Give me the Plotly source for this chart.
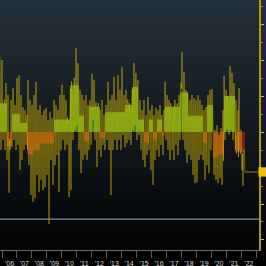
import numpy as np
import pandas as pd
import plotly.graph_objects as go

# ---------------- data ----------------
series_start = "2005-11-13"
series_end = "2022-03-30"

# spike extremes (one per ~3.5 weeks)
spike_values = [
    2.08, -0.50, 2.00, -0.22, 0.89, -0.50, 1.36, -0.78, 1.03, -1.69,
    -0.50, 0.89, -0.42, 1.22, -0.22, 0.75, -0.50, 1.50, -0.36, 1.58,
    -1.06, 1.03, -0.78, 0.69, -0.50, 0.61, -0.36, 0.47, 1.44, -0.92,
    0.89, -1.75, 0.75, -1.94, 1.03, -1.83, 1.39, -1.19, 0.61, -1.67,
    0.75, -1.33, 0.47, -1.61, 0.61, -1.53, 0.67, -1.19, 0.33, -2.56,
    0.56, -0.78, 0.39, -1.47, 0.89, -0.92, 0.75, -0.64, 0.61, -1.67,
    1.03, -0.50, 1.31, -0.22, 1.03, -0.50, 0.89, -0.36, 0.25, -1.81,
    0.47, -1.61, 1.17, -0.22, 1.50, 0.06, 2.33, 0.19, 1.92, -0.50,
    1.17, -1.14, 1.03, -0.78, 0.89, -0.64, 1.03, -0.78, 0.75, -0.50,
    0.89, -0.36, 1.61, 0.33, 1.44, -0.22, 0.83, -0.97, 0.75, -0.50,
    0.61, -0.69, 0.89, -0.36, 0.47, -0.50, 0.75, -0.22, 1.39, -0.50,
    0.89, -1.75, 1.03, -0.50, 1.53, -0.22, 0.89, -0.50, 1.58, -0.22,
    1.17, -0.50, 1.81, -0.08, 1.03, -0.42, 1.17, -0.31, 0.89, -0.22,
    0.69, -0.36, 1.17, 0.06, 1.92, 0.19, 1.64, -0.22, 1.44, -0.08,
    0.89, -0.50, 0.61, -0.78, 0.89, -0.97, 0.47, -0.64, 0.97, -0.50,
    0.61, -1.06, 0.75, -1.47, 0.47, -0.78, 0.67, -0.50, 0.61, -0.69,
    0.75, -0.36, 0.47, -0.64, 0.61, 1.39, -0.22, 1.03, -0.50, 0.89,
    -0.78, 0.75, -0.50, 0.61, -0.78, 0.89, -0.36, 0.75, -0.64, 1.03,
    -0.22, 1.36, 2.22, -0.22, 1.67, -0.50, 1.17, -0.86, 1.03, -0.64,
    0.89, -0.78, 1.03, -1.19, 0.94, -1.42, 0.89, -1.39, 1.03, -0.78,
    0.89, -0.64, 0.75, -0.78, 0.61, -1.33, 0.69, -0.92, 1.03, -1.14,
    1.17, -0.50, 1.19, -0.30, -1.19, 0.06, -1.33, 0.19, -1.42, -0.08,
    -1.28, 0.11, -1.47, 0.61, 1.56, -0.22, 1.17, 0.06, 0.89, -0.08,
    1.83, 0.06, 1.64, -0.22, 1.36, -0.08, 0.89, -0.50, 0.61, 1.22,
    -0.50, 0.06, -1.06, -1.50, -0.50, -1.11,
]
# calmer readings between the spikes
between_values = [
    0.9, 0.7, 0.8, 0.6, 0.9, 0.7, 0.6, -0.3, -0.5, -0.2,
    -0.4, -0.3, 0.5, 0.6, 0.4, 0.5, 0.7, 0.4, 0.5, 0.6,
    0.2, 0.3, 0.1, 0.3, 0.2, 0.4, 0.2, -0.5, -0.7, -0.6,
    -0.5, -0.8, -0.6, -0.7, -0.5, -0.6, -0.4, -0.5, -0.6, -0.4,
    -0.3, -0.4, -0.2, -0.3, -0.4, -0.3, -0.2, -0.4, -0.3, -0.4,
    -0.2, -0.3, -0.4, -0.3, 0.3, 0.4, 0.2, 0.4, 0.3, 0.5,
    0.3, 0.4, 0.5, 0.3, 0.2, 0.4, 0.3, 0.4, 0.3, 0.2,
    1.2, 1.4, 1.1, 1.3, 1.5, 1.2, 1.4, 1.3, 1.2, 0.5,
    0.4, 0.5, 0.3, 0.4, -0.2, -0.3, -0.1, -0.3, -0.2, 0.7,
    0.6, 0.8, 0.7, 0.6, 0.8, 0.7, 0.6, 0.7, 0.8, 0.6,
    -0.1, -0.2, -0.1, -0.2, -0.1, 0.5, 0.6, 0.4, 0.6, 0.5,
    0.6, 0.5, 0.4, 0.6, 0.7, 0.5, 0.6, 0.4, 0.5, 0.6,
    0.5, 0.6, 0.7, 0.5, 0.6, 0.8, 0.7, 0.9, 0.7, 0.8,
    0.6, 0.7, 1.2, 1.3, 1.1, 1.4, 1.2, 1.3, 0.4, 0.3,
    0.4, 0.3, 0.4, 0.2, -0.3, -0.2, -0.4, -0.3, -0.2, 0.3,
    0.4, 0.3, 0.4, -0.2, -0.1, -0.3, -0.2, 0.3, 0.4, 0.3,
    0.4, 0.3, -0.1, -0.2, 0.0, 0.7, 0.6, 0.8, 0.7, 0.6,
    0.8, 0.7, 0.6, 0.7, 0.8, 0.6, 0.7, 0.8, 0.7, 0.6,
    1.0, 1.2, 1.1, 1.0, 1.2, 1.1, 1.0, 1.1, 0.4, 0.5,
    0.4, 0.5, 0.3, 0.5, 0.4, 0.6, 0.4, 0.5, 0.3, 0.5,
    0.4, 0.5, 0.4, -0.3, -0.2, -0.4, -0.3, 0.7, 0.8, 0.6,
    0.8, 0.7, 0.8, -0.6, -0.8, -0.7, -0.6, -0.8, -0.7, -0.6,
    -0.8, -0.7, -0.6, -0.8, 1.0, 0.9, 1.1, 1.0, 0.9, 1.1,
    1.0, 0.9, 1.1, 1.0, 0.9, -0.5, -0.6, -0.5, -0.7, -0.5,
    -0.6, -0.4, -0.6, -0.5, -0.6,
]

avg_dates = [
    "2005-11-13", "2006-05-02", "2006-09-01", "2007-03-15", "2007-09-03",
    "2008-02-01", "2008-07-16", "2009-06-22", "2010-07-18", "2011-02-24",
    "2011-06-25", "2011-10-25", "2012-07-20", "2012-11-19", "2014-03-23",
    "2014-09-09", "2015-02-03", "2015-06-29", "2015-10-29", "2016-02-04",
    "2016-05-12", "2016-09-11", "2016-11-23", "2017-11-24", "2018-06-08",
    "2019-06-09", "2019-09-14", "2020-02-08", "2020-06-01", "2020-11-02",
    "2021-07-30", "2022-03-30",
]
avg_values = [
    0.80, -0.38, 0.50, 0.25, -0.62,
    -0.50, -0.32, 0.35, 1.30, 0.45,
    -0.25, 0.70, -0.15, 0.55, 0.75,
    1.25, 0.35, -0.30, 0.35, -0.20,
    0.35, -0.10, 0.70, 1.10, 0.45,
    -0.30, 0.75, -0.70, -0.62, 1.00,
    -0.55, -0.55,
]

threshold = -2.42

x_range = ["2005-11-13", "2023-03-07"]
y_range = [-3.278, 3.667]

# ---------------- figure ----------------
line_values = []
for i, s in enumerate(spike_values):
    line_values.append(s)
    if i < len(between_values):
        line_values.append(between_values[i])
line_dates = pd.date_range(series_start, series_end, periods=len(line_values))
last_value = line_values[-1]
avg_arr = np.array(avg_values)

fig = go.Figure()

fig.add_trace(go.Scatter(
    x=avg_dates, y=np.maximum(avg_arr, 0), mode="lines", line_shape="hv",
    line=dict(width=0), fill="tozeroy", fillcolor="rgb(74,138,30)",
    hoverinfo="skip", showlegend=False))
fig.add_trace(go.Scatter(
    x=avg_dates, y=np.minimum(avg_arr, 0), mode="lines", line_shape="hv",
    line=dict(width=0), fill="tozeroy", fillcolor="rgb(128,28,24)",
    hoverinfo="skip", showlegend=False))
fig.add_trace(go.Scatter(
    x=line_dates, y=line_values, mode="lines",
    line=dict(color="rgba(240,205,0,0.78)", width=0.55),
    showlegend=False))

shapes = []
# vertical gradient background
top = np.array([36, 49, 59])
bot = np.array([3, 4, 5])
n = 40
for i in range(n):
    t = (i + 0.5) / n
    c = top * (1 - t) + bot * t
    shapes.append(dict(
        type="rect", xref="paper", yref="paper",
        x0=0, x1=1.05, y0=1 - (i + 1) / n, y1=1 - i / n + 0.002,
        fillcolor=f"rgb({int(c[0])},{int(c[1])},{int(c[2])})",
        line=dict(width=0), layer="below"))
shapes.append(dict(type="line", xref="paper", yref="y", x0=0, x1=1,
                   y0=threshold, y1=threshold,
                   line=dict(color="rgb(140,140,140)", width=1.3), layer="above"))
shapes.append(dict(type="line", xref="x", yref="y", x0=series_end, x1=x_range[1],
                   y0=last_value, y1=last_value,
                   line=dict(color="rgb(175,110,30)", width=1), layer="above"))
# last-value tag at the right edge
shapes.append(dict(type="rect", xref="paper", yref="y", x0=0.998, x1=1.04,
                   y0=last_value - 0.13, y1=last_value + 0.13,
                   fillcolor="rgb(232,196,0)", line=dict(width=0), layer="above"))
fig.update_layout(shapes=shapes)

fig.update_layout(
    width=266, height=266,
    margin=dict(l=0, r=7, t=0, b=16, pad=0),
    paper_bgcolor="black", plot_bgcolor="rgba(0,0,0,0)",
    font=dict(family="Liberation Sans", size=7, color="rgb(200,200,200)"),
    xaxis=dict(
        range=x_range, showgrid=False, zeroline=False,
        showline=True, linecolor="rgb(110,110,110)", linewidth=1,
        ticks="outside", ticklen=7, tickcolor="rgb(90,90,90)", tickwidth=1,
        dtick="M12", tick0="2006-01-01", ticklabelmode="period",
        tickformat="'%y", tickfont=dict(size=7, color="rgb(215,215,215)"),
        automargin=False, fixedrange=True),
    yaxis=dict(
        range=y_range, side="right", showgrid=False, zeroline=False,
        showline=True, linecolor="rgb(180,150,20)", linewidth=1.5,
        ticks="outside", ticklen=3, tickcolor="rgb(230,195,0)",
        dtick=1, tick0=0,
        minor=dict(dtick=0.5, ticklen=2, tickcolor="rgb(170,140,20)", ticks="outside"),
        showticklabels=False,
        automargin=False, fixedrange=True),
)

fig.write_html("out.html")
